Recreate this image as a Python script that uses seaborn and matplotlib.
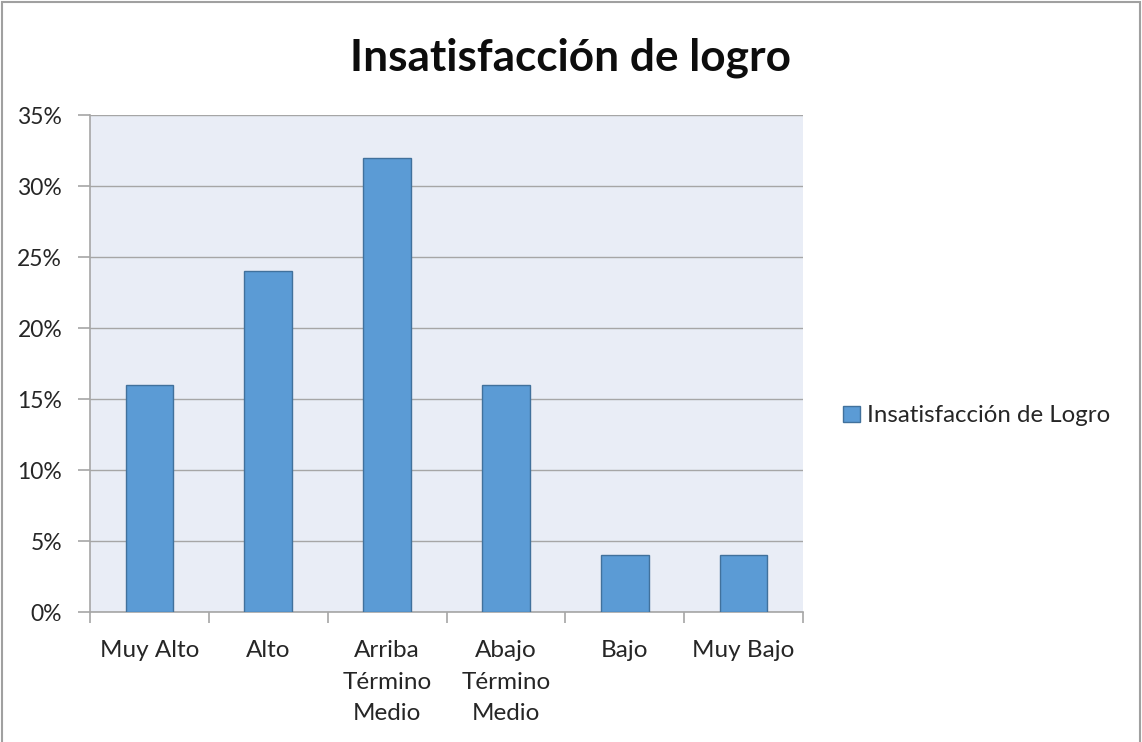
import pandas as pd
import matplotlib.pyplot as plt
import seaborn as sns
from matplotlib.patches import Patch, Rectangle
from matplotlib.ticker import PercentFormatter, FixedLocator

# Daten
kategorien = ["Muy Alto", "Alto", "Arriba\nTérmino\nMedio", "Abajo\nTérmino\nMedio", "Bajo", "Muy Bajo"]
werte = [16, 24, 32, 16, 4, 4]
serie = "Insatisfacción de Logro"
titel = "Insatisfacción de logro"

df = pd.DataFrame({"Kategorie": kategorien, "Wert": werte})

sns.set_theme(style="white")
plt.rcParams["font.family"] = ["Lato", "DejaVu Sans"]

fig = plt.figure(figsize=(11.42, 7.42), dpi=100)
ax = fig.add_axes([0.0788, 0.1752, 0.6244, 0.6698])
ax.set_facecolor("#E9EDF6")

sns.barplot(data=df, x="Kategorie", y="Wert", color="#5B9BD5", width=0.4,
            edgecolor="#41719C", linewidth=1.0, saturation=1, ax=ax, zorder=3)

ax.set_ylim(0, 35)
ax.set_xlim(-0.5, len(kategorien) - 0.5)
ax.set_yticks(range(0, 36, 5))
ax.yaxis.set_major_formatter(PercentFormatter(decimals=0))
ax.grid(axis="y", color="#A6A6A6", linewidth=1.0, zorder=0)
ax.set_axisbelow(True)

for s in ["top", "right"]:
    ax.spines[s].set_visible(False)
for s in ["left", "bottom"]:
    ax.spines[s].set_color("#A6A6A6")
    ax.spines[s].set_linewidth(1.2)

# Tick-Striche an den Kategoriegrenzen
ax.xaxis.set_minor_locator(FixedLocator([i - 0.5 for i in range(len(kategorien) + 1)]))
ax.tick_params(axis="x", which="major", length=0, pad=20.5, labelsize=17.5, colors="#262626")
ax.tick_params(axis="x", which="minor", length=8, width=1.2, color="#A6A6A6", bottom=True)
ax.tick_params(axis="y", length=9, width=1.2, color="#A6A6A6", left=True, labelsize=16.5,
               colors="#262626", pad=11)
for lbl in ax.get_xticklabels():
    lbl.set_linespacing(1.6)
    lbl.set_verticalalignment("top")

ax.set_xlabel("")
ax.set_ylabel("")

fig.text(0.5, 0.922, titel, ha="center", va="center", fontsize=31.8, fontweight="bold", color="#0D0D0D")

# Legende
ax.legend(handles=[Patch(facecolor="#5B9BD5", edgecolor="#41719C", label=serie)],
          loc="center left", bbox_to_anchor=(0.738, 0.4394), bbox_transform=fig.transFigure,
          frameon=False, fontsize=17.3, handlelength=0.7, handleheight=0.7, handletextpad=0.3,
          labelcolor="#262626", borderaxespad=0, borderpad=0)

# Rahmen
fig.patches.append(Rectangle((0.002, -0.01), 0.996, 1.0075, transform=fig.transFigure,
                             fill=False, edgecolor="#A0A0A0", linewidth=1.5))

fig.savefig("out.png", dpi=100)
